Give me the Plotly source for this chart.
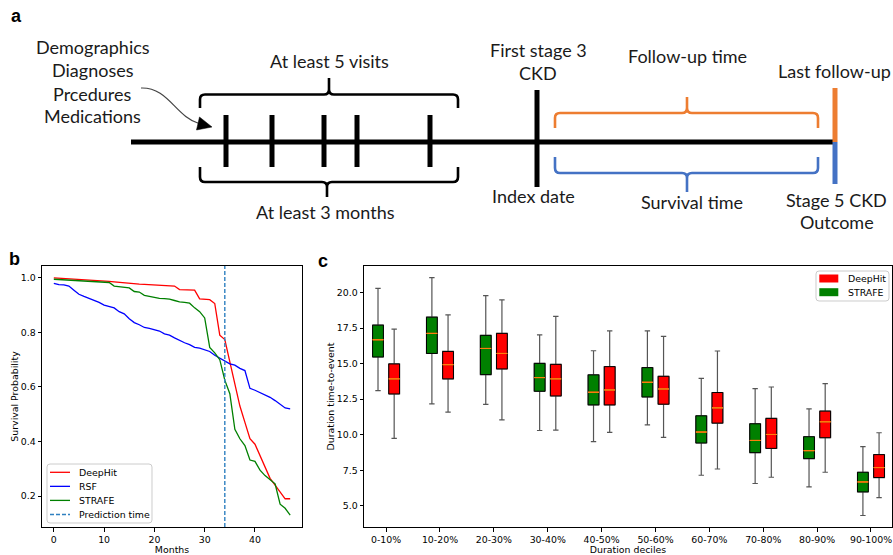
import plotly.graph_objects as go
import numpy as np

W, H = 893, 555


def X(px):
    return px / W


def Y(py):
    return 1 - py / H


# ---------------- data: panel b ----------------
months = list(range(48))
deephit = [1.0, 0.999, 0.998, 0.997, 0.996, 0.995, 0.994, 0.993, 0.991, 0.99,
           0.988, 0.987, 0.985, 0.983, 0.981, 0.98, 0.978, 0.977, 0.976, 0.975,
           0.974, 0.973, 0.972, 0.971, 0.97, 0.957, 0.956, 0.955, 0.955, 0.923,
           0.921, 0.92, 0.906, 0.79, 0.774, 0.69, 0.605, 0.53, 0.47, 0.41,
           0.39, 0.35, 0.305, 0.265, 0.24, 0.215, 0.19, 0.19]
rsf = [0.98, 0.975, 0.974, 0.97, 0.955, 0.94, 0.932, 0.925, 0.918, 0.91,
       0.90, 0.895, 0.89, 0.876, 0.868, 0.85, 0.836, 0.828, 0.818, 0.815,
       0.81, 0.805, 0.795, 0.79, 0.78, 0.77, 0.762, 0.755, 0.745, 0.742,
       0.735, 0.73, 0.716, 0.706, 0.695, 0.685, 0.68, 0.668, 0.66, 0.595,
       0.588, 0.58, 0.57, 0.562, 0.55, 0.535, 0.523, 0.52]
strafe = [0.995, 0.994, 0.993, 0.992, 0.991, 0.99, 0.989, 0.988, 0.987, 0.986,
          0.985, 0.983, 0.97, 0.968, 0.965, 0.963, 0.95, 0.948, 0.936, 0.932,
          0.93, 0.925, 0.924, 0.922, 0.917, 0.912, 0.91, 0.907, 0.89, 0.876,
          0.853, 0.745, 0.725, 0.70, 0.625, 0.575, 0.445, 0.41, 0.385, 0.332,
          0.327, 0.295, 0.275, 0.26, 0.245, 0.17, 0.155, 0.13]
prediction_time = 34
b_xticks = [0, 10, 20, 30, 40]
b_yticks = [0.2, 0.4, 0.6, 0.8, 1.0]

# ---------------- data: panel c ----------------
deciles = ["0-10%", "10-20%", "20-30%", "30-40%", "40-50%",
           "50-60%", "60-70%", "70-80%", "80-90%", "90-100%"]
strafe_low = [13.11, 12.17, 12.13, 10.30, 9.51, 10.70, 7.15, 6.57, 6.33, 4.32]
strafe_q1 = [15.47, 15.72, 14.23, 13.06, 12.10, 12.66, 9.42, 8.74, 8.32, 5.98]
strafe_med = [16.68, 17.13, 16.07, 14.02, 12.99, 13.69, 10.19, 9.60, 8.88, 6.68]
strafe_q3 = [17.71, 18.27, 16.99, 15.02, 14.21, 14.72, 11.33, 10.77, 9.86, 7.36]
strafe_up = [20.30, 21.05, 19.79, 17.03, 15.91, 17.31, 13.97, 13.25, 11.82, 9.16]
deephit_low = [9.74, 11.59, 11.05, 10.33, 10.16, 9.81, 7.59, 7.01, 7.36, 5.58]
deephit_q1 = [12.87, 13.93, 14.63, 12.73, 12.10, 12.15, 10.82, 9.04, 9.79, 6.99]
deephit_med = [13.93, 14.93, 15.72, 13.93, 13.15, 13.22, 11.89, 10.02, 10.91, 7.69]
deephit_q3 = [14.98, 15.86, 17.13, 14.95, 14.79, 14.11, 12.97, 11.15, 11.66, 8.60]
deephit_up = [17.43, 18.43, 19.49, 18.32, 17.31, 16.92, 15.89, 13.36, 13.60, 10.14]
c_yticks = [5.0, 7.5, 10.0, 12.5, 15.0, 17.5, 20.0]

# ---------------- data: panel a (schematic) ----------------
visit_positions = [226, 272, 324, 357, 430]

RED, BLUE, GREEN, C0, ORANGE = "#ff0000", "#0000ff", "#008000", "#2f80c0", "#ff7f0e"
OFF_OR, OFF_BL = "#ED7D31", "#4472C4"
MPL = "DejaVu Sans"
DIAG = "Lato"
TS = 9.4

fig = go.Figure()

# ---- panel b traces ----
for name, vals, col in [("DeepHit", deephit, RED), ("RSF", rsf, BLUE), ("STRAFE", strafe, GREEN)]:
    fig.add_trace(go.Scatter(x=months, y=vals, mode="lines", name=name,
                             line=dict(color=col, width=1.3), showlegend=False,
                             xaxis="x", yaxis="y"))

# ---- panel c traces ----
pos = np.arange(len(deciles))


def box_layers(p, low, q1, med, q3, up, fill, name):
    common = dict(x=list(p), width=0.2, xaxis="x2", yaxis="y2", showlegend=False,
                  hoverinfo="skip", boxpoints=False, name=name)
    t1 = go.Box(q1=q1, median=med, q3=q3, lowerfence=low, upperfence=up,
                whiskerwidth=0.5, line=dict(color="#555555", width=1.2),
                fillcolor="rgba(0,0,0,0)", **common)
    t2 = go.Box(q1=q1, median=med, q3=q3, lowerfence=q1, upperfence=q3,
                whiskerwidth=0, line=dict(color="black", width=1),
                fillcolor=fill, **common)
    t3 = go.Box(q1=med, median=med, q3=med, lowerfence=med, upperfence=med,
                whiskerwidth=0, line=dict(color=ORANGE, width=1),
                fillcolor="rgba(0,0,0,0)", **common)
    return [t1, t2, t3]


for t in box_layers(pos - 0.15, strafe_low, strafe_q1, strafe_med, strafe_q3, strafe_up, GREEN, "STRAFE"):
    fig.add_trace(t)
for t in box_layers(pos + 0.15, deephit_low, deephit_q1, deephit_med, deephit_q3, deephit_up, RED, "DeepHit"):
    fig.add_trace(t)

shapes = []
annotations = []


def pth(*segs):
    out = []
    for s in segs:
        if isinstance(s, str):
            out.append(s)
        else:
            out.append(f"{X(s[0]):.5f},{Y(s[1]):.5f}")
    return " ".join(out)


def pline(x0, y0, x1, y1, color="black", width=5, dash=None):
    d = dict(type="line", xref="paper", yref="paper", x0=X(x0), y0=Y(y0), x1=X(x1), y1=Y(y1),
             line=dict(color=color, width=width))
    if dash:
        d["line"]["dash"] = dash
    shapes.append(d)


def text(x, y, s, size=18, family=DIAG, color="#1a1a1a", xanchor="center", bold=False):
    annotations.append(dict(xref="paper", yref="paper", x=X(x), y=Y(y), text=(f"<b>{s}</b>" if bold else s),
                            showarrow=False, xanchor=xanchor, yanchor="middle",
                            font=dict(size=size, family=family, color=color)))


def brace(x0, x1, yl, yarm, ytip, xc, color, width=2.6, r=5):
    s = 1 if yarm > yl else -1
    t = -s
    d = pth("M", (x0, yarm), "L", (x0, yl + s * r), "Q", (x0, yl), (x0 + r, yl),
            "L", (xc - r, yl), "Q", (xc, yl), (xc, yl + t * r), "L", (xc, ytip),
            "M", (xc, yl + t * r), "Q", (xc, yl), (xc + r, yl),
            "L", (x1 - r, yl), "Q", (x1, yl), (x1, yl + s * r), "L", (x1, yarm))
    shapes.append(dict(type="path", xref="paper", yref="paper", path=d,
                       line=dict(color=color, width=width)))


# ---- panel a ----
pline(131, 142, 835, 142)
for vx in visit_positions:
    pline(vx, 115, vx, 167)
pline(537, 90, 537, 187)
pline(835, 88, 835, 142, color=OFF_OR)
pline(835, 142, 835, 184, color=OFF_BL)
brace(200, 458, 94.5, 108, 78, 329, "black")
brace(200, 458, 182, 167, 197, 327, "black")
brace(555, 818, 113, 128, 97, 687, OFF_OR)
brace(555, 818, 173, 157, 192, 687, OFF_BL)
# curved arrow
shapes.append(dict(type="path", xref="paper", yref="paper",
                   path=pth("M", (141, 88), "C", (168, 87), (176, 117), (199, 123.5)),
                   line=dict(color="#444444", width=1.2)))
shapes.append(dict(type="path", xref="paper", yref="paper",
                   path=pth("M", (199.5, 117), "L", (212, 127), "L", (196.5, 130), "Z"),
                   line=dict(color="black", width=0.5), fillcolor="black"))

text(92.5, 47, "Demographics")
text(92.5, 70, "Diagnoses")
text(92.5, 93.5, "Prcedures")
text(92.5, 116.5, "Medications")
text(329, 61.5, "At least 5 visits")
text(325, 212, "At least 3 months")
text(538, 50, "First stage 3")
text(538, 73, "CKD")
text(687, 56, "Follow-up time")
text(834, 71, "Last follow-up")
text(533, 196, "Index date")
text(692, 202, "Survival time")
text(836, 200, "Stage 5 CKD")
text(837, 222, "Outcome")

# panel letters
text(16, 16, "a", size=18, family="Liberation Sans", color="black", bold=True)
text(14, 259, "b", size=18, family="Liberation Sans", color="black", bold=True)
text(323, 261, "c", size=18, family="Liberation Sans", color="black", bold=True)

# prediction time vertical line
shapes.append(dict(type="line", xref="x", yref="y domain", x0=prediction_time, x1=prediction_time,
                   y0=0, y1=1, line=dict(color=C0, width=1.4, dash="4px,2px")))


# ---- manual legends ----
def rounded_rect(x0, y0, x1, y1, r=3):
    return pth("M", (x0 + r, y0), "L", (x1 - r, y0), "Q", (x1, y0), (x1, y0 + r),
               "L", (x1, y1 - r), "Q", (x1, y1), (x1 - r, y1), "L", (x0 + r, y1),
               "Q", (x0, y1), (x0, y1 - r), "L", (x0, y0 + r), "Q", (x0, y0), (x0 + r, y0), "Z")


shapes.append(dict(type="path", xref="paper", yref="paper", path=rounded_rect(47, 464, 152, 523),
                   line=dict(color="#cccccc", width=1), fillcolor="rgba(255,255,255,0.8)"))
b_items = [("DeepHit", RED, None), ("RSF", BLUE, None), ("STRAFE", GREEN, None),
           ("Prediction time", C0, "4px,2px")]
for i, (lab, col, dash) in enumerate(b_items):
    yy = 472.3 + i * 14.05
    pline(50, yy, 70, yy, color=col, width=1.4 if dash else 1.3, dash=dash)
    text(77, yy, lab, size=TS, family=MPL, color="black", xanchor="left")

shapes.append(dict(type="path", xref="paper", yref="paper", path=rounded_rect(816, 271, 889, 301),
                   line=dict(color="#cccccc", width=1), fillcolor="rgba(255,255,255,0.8)"))
c_items = [("DeepHit", RED), ("STRAFE", GREEN)]
for i, (lab, col) in enumerate(c_items):
    yy = 278.5 + i * 13.7
    shapes.append(dict(type="rect", xref="paper", yref="paper", x0=X(819.3), x1=X(838.3),
                       y0=Y(yy - 4), y1=Y(yy + 4), line=dict(width=0), fillcolor=col))
    text(846, yy, lab, size=TS, family=MPL, color="black", xanchor="left")

axis_common = dict(showline=True, mirror=True, linecolor="black", linewidth=1, ticks="outside",
                   ticklen=3.5, tickwidth=0.9, tickcolor="black", showgrid=False, zeroline=False,
                   tickfont=dict(family=MPL, size=TS, color="black"))

fig.update_layout(
    width=W, height=H, margin=dict(l=0, r=0, t=0, b=0),
    paper_bgcolor="white", plot_bgcolor="white", showlegend=False, boxmode="overlay",
    xaxis=dict(domain=[X(42), X(302)], anchor="y", range=[-2.35, 49.35], tickvals=b_xticks,
               title=dict(text="Months", font=dict(family=MPL, size=TS, color="black"), standoff=2),
               **axis_common),
    yaxis=dict(domain=[Y(527), Y(266)], anchor="x", range=[0.0865, 1.0435], tickvals=b_yticks,
               tickformat=".1f",
               title=dict(text="Survival Probability", font=dict(family=MPL, size=TS, color="black"), standoff=0),
               **axis_common),
    xaxis2=dict(domain=[X(364), X(892)], anchor="y2", range=[-0.41, 9.39], tickvals=list(pos),
                ticktext=deciles,
                title=dict(text="Duration deciles", font=dict(family=MPL, size=TS, color="black"), standoff=2),
                **axis_common),
    yaxis2=dict(domain=[Y(527), Y(266)], anchor="x2", range=[3.51, 21.87], tickvals=c_yticks,
                tickformat=".1f",
                title=dict(text="Duration time-to-event", font=dict(family=MPL, size=TS, color="black"), standoff=0),
                **axis_common),
    shapes=shapes, annotations=annotations,
)

fig.write_html("out.html")
